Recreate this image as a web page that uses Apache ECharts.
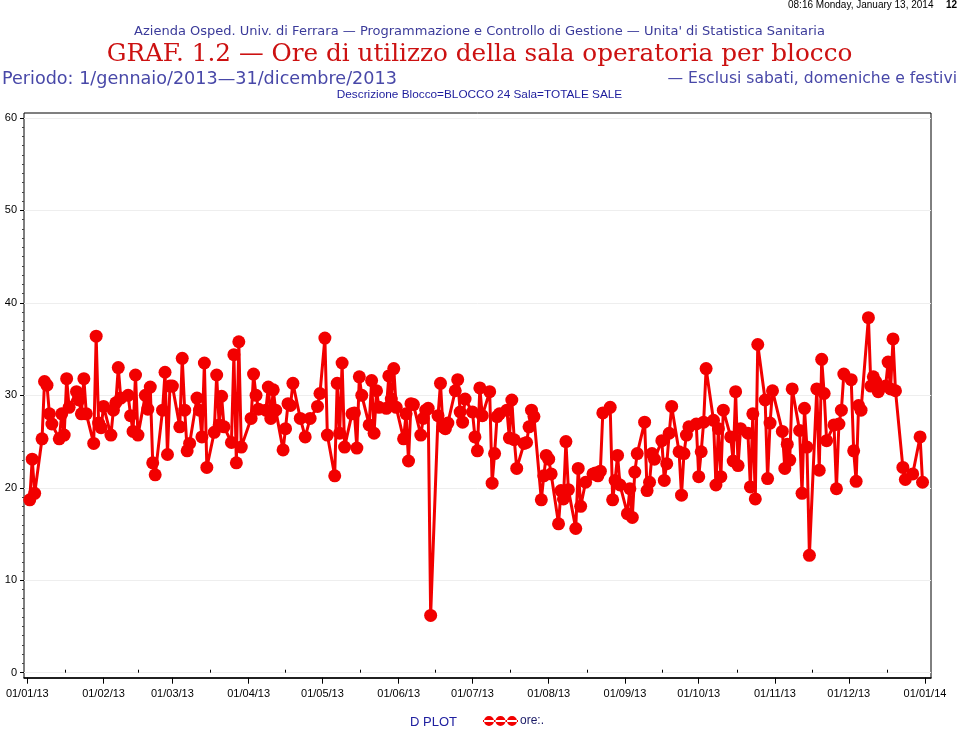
<!DOCTYPE html>
<html><head><meta charset="utf-8">
<script src="https://cdn.jsdelivr.net/npm/echarts@6/dist/echarts.min.js"></script>
<style>html,body{margin:0;padding:0;background:#fff}#c{width:959px;height:731px}</style>
</head><body><div id="c"></div>
<script>
// Italian public holidays falling on weekdays in 2013 (excluded, as in the source)
const holidays = ['2013-01-01','2013-04-01','2013-04-23','2013-04-25','2013-05-01','2013-08-15','2013-11-01','2013-12-25','2013-12-26'];
// Hours of use per working day, month by month
const jan = [18.7,23.1,19.4,25.3,31.5,31.1,28,26.9,25.3,28,25.7,31.8,28.7,30.4,29.5,28,31.8,28,24.8,36.4,27,26.5];
const feb = [28.8,25.7,28.4,29.2,33,29.7,30,27.8,26.1,32.2,25.7,30,28.5,30.9,22.7,21.4,28.4,32.5,23.6,31];
const mar = [31,26.6,34,28.4,24,24.8,29.7,28.4,25.5,33.5,22.2,26,32.2,26.8,29.9,26.6,24.9,34.4,22.7,35.8,24.4];
const apr = [27.5,32.3,30,28.5,28.4,30.9,27.5,30.6,28.4,24.1,26.4,29.1,28.9,31.3,27.5,25.5,27.5,28.8,30.2];
const may = [36.2,25.7,21.3,31.3,25.9,33.5,24.4,28,28.1,24.3,32,30,26.8,31.6,25.9,30.5,28.7,28.6,32.1,29.6,32.9,28.7];
const jun = [25.3,28,22.9,29.1,29,25.7,27.5,28.4,28.6,6.2,27.8,31.3,26.6,26.4,27,30.5,31.7,28.2,27.1,29.6];
const jul = [28.2,25.5,24,30.8,27.8,30.4,20.5,23.7,27.7,28,28.4,25.4,29.5,25.2,22.1,24.8,24.9,26.6,28.4,27.7,18.7,21.3,23.5];
const aug = [23.1,21.5,16.1,19.7,18.8,25,19.8,15.6,22.1,18,20.6,21.5,21.6,21.3,21.8,28.1,28.7,18.7,20.8,23.5,20.3];
const sep = [17.2,19.9,16.8,21.7,23.7,27.1,19.7,20.6,23.7,23.1,25.1,20.8,22.6,25.9,28.8,23.9,19.2,23.7,25.7,26.6,26.9];
const oct = [21.2,23.9,27.1,32.9,27.3,20.3,26.4,21.2,28.4,25.5,22.9,30.4,22.4,26.4,25.9,20.1,28,18.8,35.5,29.5,21,27,30.5];
const nov = [26.1,22.1,24.7,23,30.7,26.2,19.4,28.6,24.4,12.7,30.7,21.9,33.9,30.2,25.1,26.8,19.9,26.9,28.4,32.3];
const dec = [31.7,24,20.7,28.9,28.4,38.4,31,32,31.5,30.4,31,33.6,30.7,36.1,30.5,22.2,20.9,21.5,25.5,20.6];
const monthValues = [jan,feb,mar,apr,may,jun,jul,aug,sep,oct,nov,dec];
const yTicks = [0,10,20,30,40,50,60];
const seriesName = 'ore:.';

const pad = n => (n < 10 ? '0' : '') + n;
const key = d => d.getFullYear() + '-' + pad(d.getMonth() + 1) + '-' + pad(d.getDate());
const points = [];
monthValues.forEach((vals, m) => {
  const days = [];
  for (let d = 1; d <= 31; d++) {
    const dt = new Date(2013, m, d);
    if (dt.getMonth() !== m) break;
    const wd = dt.getDay();
    if (wd === 0 || wd === 6 || holidays.includes(key(dt))) continue;
    days.push(dt.getTime());
  }
  vals.forEach((v, i) => { if (i < days.length) points.push([days[i], v]); });
});
const monthTicks = [];
for (let m = 0; m <= 12; m++) monthTicks.push(new Date(2013, m, 1).getTime());
const midTicks = [];
for (let m = 0; m < 12; m++) midTicks.push((monthTicks[m] + monthTicks[m + 1]) / 2);
const DAY = 86400000;
const xMin = monthTicks[0] - 1.34 * DAY, xMax = monthTicks[12] + 2.44 * DAY;
const fmt = v => { const d = new Date(v); return pad(d.getDate()) + '/' + pad(d.getMonth() + 1) + '/' + String(d.getFullYear()).slice(2); };

const chart = echarts.init(document.getElementById('c'), null, {renderer: 'canvas'});
const blue = '#3b3b9a';
chart.setOption({
  animation: false,
  backgroundColor: '#fff',
  graphic: [
    {type: 'text', left: 788, top: 0, style: {text: '08:16 Monday, January 13, 2014', font: '10px "Liberation Sans"', fill: '#000'}},
    {type: 'text', left: 946, top: 0, style: {text: '12', font: 'bold 10px "Liberation Sans"', fill: '#000'}},
    {type: 'text', left: 'center', top: 25, style: {text: "Azienda Osped. Univ. di Ferrara \u2014 Programmazione e Controllo di Gestione \u2014 Unita' di Statistica Sanitaria", font: '13px "DejaVu Sans"', fill: blue}},
    {type: 'text', left: 'center', top: 42, style: {text: 'GRAF. 1.2 \u2014 Ore di utilizzo della sala operatoria per blocco', font: '24.7px "DejaVu Serif"', fill: '#cc1111'}},
    {type: 'text', left: 2, top: 70, style: {text: 'Periodo: 1/gennaio/2013\u201431/dicembre/2013', font: '17.6px "DejaVu Sans"', fill: '#4848a8'}},
    {type: 'text', right: 2, top: 71, style: {text: '\u2014 Esclusi sabati, domeniche e festivi', font: '15.6px "DejaVu Sans"', fill: '#4848a8'}},
    {type: 'text', left: 'center', top: 89, style: {text: 'Descrizione Blocco=BLOCCO 24 Sala=TOTALE SALE', font: '11.8px "Liberation Sans"', fill: '#1c1c9c'}},
    {type: 'text', left: 410, top: 716, style: {text: 'D', font: '13px "Liberation Sans"', fill: '#2020a0'}},
    {type: 'text', left: 423, top: 716, style: {text: 'PLOT', font: '13px "Liberation Sans"', fill: '#2020a0'}}
  ],
  legend: {
    show: true, left: 478, top: 710, itemWidth: 35, itemHeight: 12, itemGap: 4,
    icon: 'path://M0,5H35V7H0Z M1,6a5,5 0 1,0 10,0a5,5 0 1,0 -10,0Z M12.5,6a5,5 0 1,0 10,0a5,5 0 1,0 -10,0Z M24,6a5,5 0 1,0 10,0a5,5 0 1,0 -10,0Z',
    textStyle: {fontFamily: 'Liberation Sans', fontSize: 12, color: '#1a1a66', padding: [3, 0, 0, -3]},
    data: [seriesName]
  },
  grid: [
    {left: 24, right: 28, top: 118, bottom: 58.3, containLabel: false},
    {left: 24, right: 28, top: 113, bottom: 53, show: true, borderColor: '#000', borderWidth: 1, backgroundColor: 'transparent'}
  ],
  xAxis: [
    {type: 'value', gridIndex: 0, min: xMin, max: xMax, offset: 5, scale: true,
      axisLine: {show: true, onZero: false, lineStyle: {color: '#000', width: 1.5}},
      axisTick: {show: true, customValues: monthTicks, length: 6, lineStyle: {color: '#000'}},
      axisLabel: {customValues: monthTicks, formatter: fmt, color: '#000', fontSize: 11, fontFamily: 'Liberation Sans', margin: 11, hideOverlap: false, showMinLabel: true, showMaxLabel: true},
      splitLine: {show: false}, minorTick: {show: false}},
    {type: 'value', gridIndex: 0, min: xMin, max: xMax, offset: 5, scale: true,
      axisLine: {show: false}, axisTick: {show: true, customValues: midTicks, length: 3, lineStyle: {color: '#000'}},
      axisLabel: {show: false}, splitLine: {show: false}},
    {type: 'value', gridIndex: 1, show: false, min: 0, max: 1}
  ],
  yAxis: [
    {type: 'value', gridIndex: 0, min: yTicks[0], max: yTicks[yTicks.length - 1], interval: 10,
      axisLine: {show: false}, axisTick: {show: true, length: 4, lineStyle: {color: '#000'}},
      minorTick: {show: true, splitNumber: 10, length: 2, lineStyle: {color: '#444'}},
      axisLabel: {color: '#000', fontSize: 11, fontFamily: 'Liberation Sans', margin: 7},
      splitLine: {show: true, lineStyle: {color: '#eeeeee', width: 1}}},
    {type: 'value', gridIndex: 1, show: false, min: 0, max: 1}
  ],
  series: [{
    name: seriesName, type: 'line', xAxisIndex: 0, yAxisIndex: 0, data: points,
    symbol: 'circle', symbolSize: 13, showAllSymbol: true,
    lineStyle: {color: '#f20000', width: 3}, itemStyle: {color: '#f20000'}
  }]
});
</script></body></html>
